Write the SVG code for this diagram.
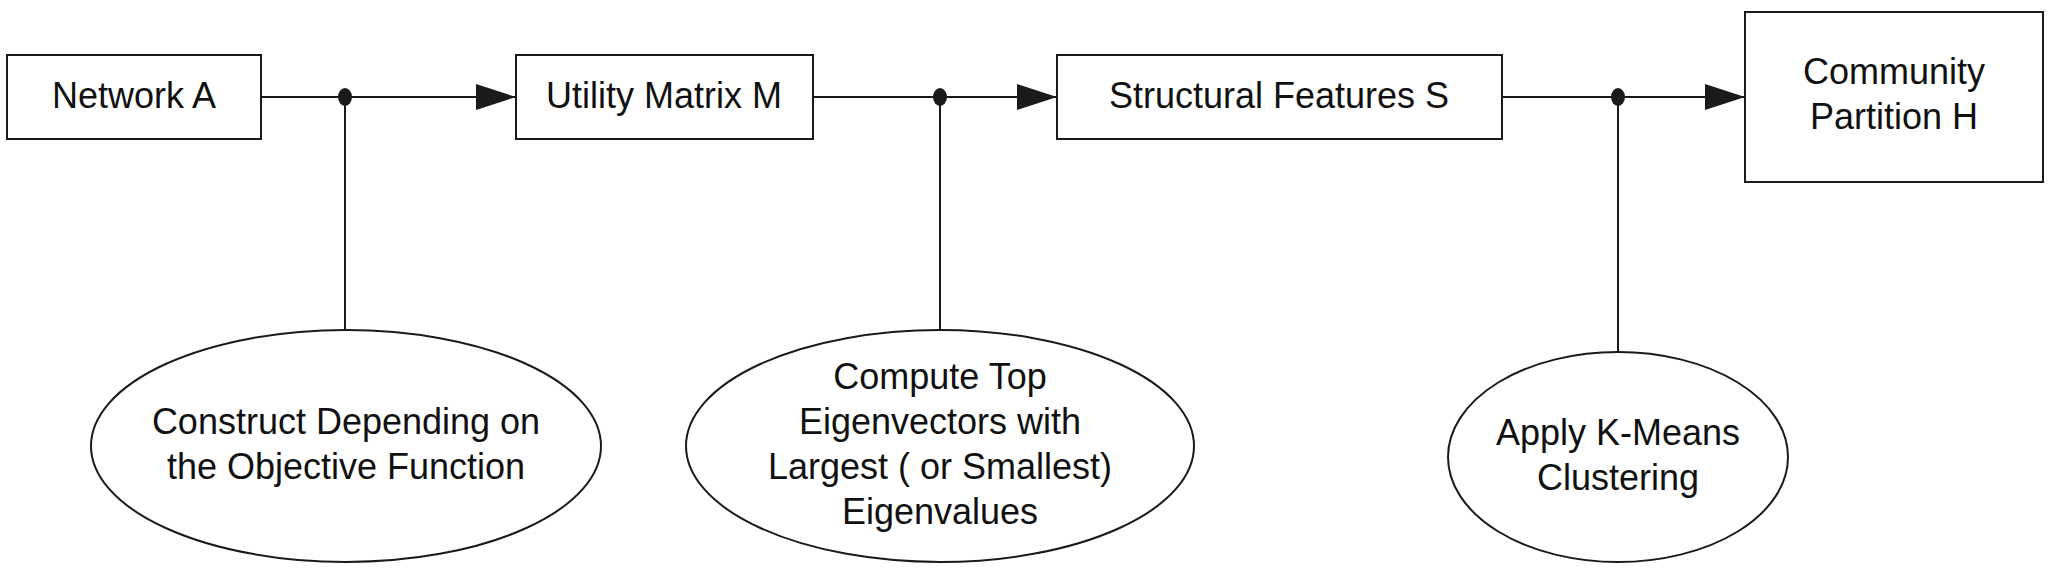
<svg xmlns="http://www.w3.org/2000/svg" width="2053" height="587" viewBox="0 0 2053 587">
<style>
.n{fill:#fff;stroke:#1a1a1a;stroke-width:2}
.t{font-family:"Liberation Sans",Arial,sans-serif;font-size:36px;fill:#111;text-anchor:middle}
.c{stroke:#1a1a1a;stroke-width:2;fill:none}
</style>
<defs><marker id="a" markerWidth="40" markerHeight="26" refX="40" refY="13" orient="auto" markerUnits="userSpaceOnUse"><path d="M0,0L40,13L0,26Z" fill="#1a1a1a"/></marker></defs>
<rect width="2053" height="587" fill="#fff"/>
<g id="connectors">
<line class="c" x1="261" y1="97" x2="516" y2="97" marker-end="url(#a)"/>
<line class="c" x1="813" y1="97" x2="1057" y2="97" marker-end="url(#a)"/>
<line class="c" x1="1502" y1="97" x2="1745" y2="97" marker-end="url(#a)"/>
<line class="c" x1="345" y1="97" x2="345" y2="330"/>
<line class="c" x1="940" y1="97" x2="940" y2="330"/>
<line class="c" x1="1618" y1="97" x2="1618" y2="352"/>
<ellipse cx="345" cy="97" rx="7" ry="9" fill="#1a1a1a"/>
<ellipse cx="940" cy="97" rx="7" ry="9" fill="#1a1a1a"/>
<ellipse cx="1618" cy="97" rx="7" ry="9" fill="#1a1a1a"/>
</g>
<g id="network"><rect class="n" x="7" y="55" width="254" height="84"/><text class="t" x="134" y="108">Network A</text></g>
<g id="utility"><rect class="n" x="516" y="55" width="297" height="84"/><text class="t" x="664" y="108">Utility Matrix M</text></g>
<g id="structural"><rect class="n" x="1057" y="55" width="445" height="84"/><text class="t" x="1279" y="108">Structural Features S</text></g>
<g id="community"><rect class="n" x="1745" y="12" width="298" height="170"/><text class="t" x="1894" y="84">Community</text><text class="t" x="1894" y="129">Partition H</text></g>
<g id="construct"><ellipse class="n" cx="346" cy="446" rx="255" ry="116"/><text class="t" x="346" y="434">Construct Depending on</text><text class="t" x="346" y="479">the Objective Function</text></g>
<g id="compute"><ellipse class="n" cx="940" cy="446" rx="254" ry="116"/><text class="t" x="940" y="389">Compute Top</text><text class="t" x="940" y="434">Eigenvectors with</text><text class="t" x="940" y="479">Largest ( or Smallest)</text><text class="t" x="940" y="524">Eigenvalues</text></g>
<g id="kmeans"><ellipse class="n" cx="1618" cy="457" rx="170" ry="105"/><text class="t" x="1618" y="445">Apply K-Means</text><text class="t" x="1618" y="490">Clustering</text></g>
</svg>
